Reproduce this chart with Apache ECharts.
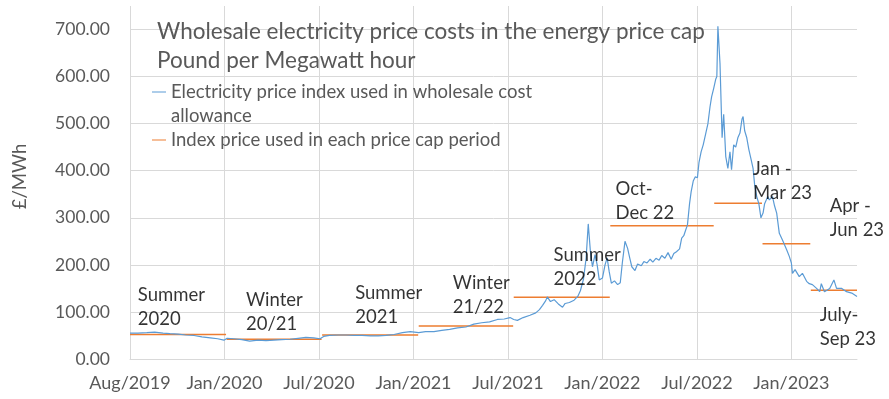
<!DOCTYPE html>
<html>
<head>
<meta charset="utf-8">
<script src="https://cdn.jsdelivr.net/npm/echarts@6/dist/echarts.min.js"></script>
<style>
  html, body { margin: 0; padding: 0; background: #ffffff; }
  #chart { width: 889px; height: 399px; }
</style>
</head>
<body>
<div id="chart"></div>
<script>
const dates = [
  '2019-08-01','2019-08-16','2019-09-02','2019-09-17','2019-10-03','2019-10-16','2019-11-01','2019-11-15',
  '2019-12-01','2019-12-16','2020-01-01','2020-01-15','2020-01-27','2020-02-02','2020-02-15','2020-03-01',
  '2020-03-16','2020-04-01','2020-04-16','2020-05-01','2020-05-16','2020-06-01','2020-06-16','2020-07-01',
  '2020-07-16','2020-07-28','2020-08-04','2020-08-15','2020-09-01','2020-09-16','2020-10-01','2020-10-16',
  '2020-11-01','2020-11-16','2020-12-01','2020-12-16','2021-01-01','2021-01-16','2021-02-01','2021-02-14',
  '2021-03-02','2021-03-17','2021-04-01','2021-04-16','2021-05-02','2021-05-17','2021-06-01','2021-06-16',
  '2021-07-01','2021-07-14','2021-07-25','2021-08-01','2021-08-08','2021-08-19','2021-09-01','2021-09-12',
  '2021-09-19','2021-09-25','2021-10-01','2021-10-04','2021-10-10','2021-10-17','2021-10-25','2021-11-02',
  '2021-11-07','2021-11-15','2021-11-24','2021-12-01','2021-12-06','2021-12-12','2021-12-17','2021-12-21',
  '2021-12-25','2021-12-29','2022-01-03','2022-01-07','2022-01-11','2022-01-17','2022-01-22','2022-01-26',
  '2022-01-30','2022-02-03','2022-02-09','2022-02-15','2022-02-20','2022-02-24','2022-03-01','2022-03-03',
  '2022-03-06','2022-03-10','2022-03-14','2022-03-20','2022-03-25','2022-04-01','2022-04-06','2022-04-12',
  '2022-04-18','2022-04-23','2022-04-29','2022-05-05','2022-05-10','2022-05-16','2022-05-22','2022-05-28',
  '2022-06-02','2022-06-07','2022-06-13','2022-06-17','2022-06-21','2022-06-24','2022-06-28','2022-07-02',
  '2022-07-05','2022-07-09','2022-07-13','2022-07-17','2022-07-20','2022-07-24','2022-07-28','2022-08-02',
  '2022-08-06','2022-08-10','2022-08-13','2022-08-17','2022-08-21','2022-08-23','2022-08-25','2022-08-29',
  '2022-09-02','2022-09-05','2022-09-09','2022-09-13','2022-09-17','2022-09-20','2022-09-24','2022-09-28',
  '2022-10-02','2022-10-06','2022-10-10','2022-10-12','2022-10-15','2022-10-19','2022-10-23','2022-10-27',
  '2022-10-31','2022-11-03','2022-11-07','2022-11-11','2022-11-15','2022-11-19','2022-11-22','2022-11-28',
  '2022-12-01','2022-12-07','2022-12-11','2022-12-15','2022-12-20','2022-12-26','2023-01-03','2023-01-08',
  '2023-01-12','2023-01-14','2023-01-19','2023-01-27','2023-02-02','2023-02-10','2023-02-15','2023-02-21',
  '2023-03-01','2023-03-07','2023-03-10','2023-03-16','2023-03-26','2023-04-03','2023-04-08','2023-04-18',
  '2023-04-27','2023-05-07','2023-05-17'
];
const prices = [
  55, 55, 56, 57, 55, 54, 53, 51,
  50, 47, 45, 43, 40, 44, 43, 41,
  38, 40, 39, 40, 41, 42, 44, 46,
  45, 43, 48, 50, 51, 51, 50, 50,
  49, 49, 50, 52, 56, 58, 56, 58,
  58, 61, 63, 66, 68, 74, 77, 79,
  84, 85, 88, 84, 82, 88, 93, 98,
  105, 114, 124, 132, 122, 126, 117, 110,
  118, 120, 125, 133, 145, 170, 215, 287,
  230, 196, 222, 200, 168, 172, 200, 215,
  185, 161, 166, 158, 162, 205, 250, 253,
  235, 215, 196, 188, 202, 198, 207, 204,
  212, 206, 214, 210, 220, 214, 226, 212,
  224, 228, 234, 257, 262, 272, 285, 330,
  355, 378, 387, 385, 418, 440, 455, 480,
  500, 536, 557, 575, 595, 600, 707, 628,
  470, 520, 430, 405, 440, 402, 455, 450,
  470, 480, 510, 515, 485, 470, 445, 425,
  405, 370, 345, 330, 300, 310, 330, 345,
  338, 345, 325, 310, 267, 253, 232, 218,
  204, 182, 190, 175, 182, 165, 160, 158,
  150, 143, 160, 143, 150, 168, 150, 150,
  143, 140, 133
];

// price cap observation periods and the index price used for each
const capStart = ['2019-08-01','2020-02-01','2020-08-01','2021-02-01','2021-08-01','2022-02-01','2022-08-18','2022-11-18','2023-02-18'];
const capEnd   = ['2020-01-31','2020-07-31','2021-01-31','2021-07-31','2022-01-31','2022-08-17','2022-11-17','2023-02-17','2023-05-17'];
const capValues = [52, 42, 51, 70, 131, 283, 331, 245, 146];
const capNames = ['Summer\n2020','Winter\n20/21','Summer\n2021','Winter\n21/22','Summer\n2022','Oct-\nDec 22','Jan -\nMar 23','Apr -\nJun 23','July-\nSep 23'];

const xTickLabels = ['Aug/2019','Jan/2020','Jul/2020','Jan/2021','Jul/2021','Jan/2022','Jul/2022','Jan/2023'];

const DAY = 86400000;
const origin = Date.UTC(2019, 7, 1);
function dayOf(s) {
  const p = s.split('-');
  return Math.round((Date.UTC(+p[0], +p[1] - 1, +p[2]) - origin) / DAY);
}

const indexName = 'Electricity price index used in wholesale cost\nallowance';
const capName = 'Index price used in each price cap period';

let capData = [];
capStart.forEach(function (s, i) {
  capData.push([dayOf(s), capValues[i]]);
  capData.push([dayOf(capEnd[i]), capValues[i]]);
  capData.push([dayOf(capEnd[i]), null]);
});

// where the period labels sit (date, value at the top-left of the text)
const notePlaces = [
  ['2019-08-16', 162], ['2020-03-09', 151], ['2020-10-03', 166], ['2021-04-07', 187], ['2021-10-16', 247],
  ['2022-02-11', 387], ['2022-10-31', 429], ['2023-03-26', 351], ['2023-03-07', 119]
];
let noteData = notePlaces.map(function (p, i) {
  return {value: [dayOf(p[0]), p[1]], name: capNames[i]};
});

const font = 'Lato';
const grey = '#595959';
const gridColor = '#d9d9d9';

let chart = echarts.init(document.getElementById('chart'));
let option = {
  animation: false,
  title: {
    text: 'Wholesale electricity price costs in the energy price cap\nPound per Megawatt hour',
    left: 157,
    top: 17,
    padding: 0,
    textStyle: {fontFamily: font, fontSize: 22.5, fontWeight: 'normal', color: grey, lineHeight: 29}
  },
  legend: {
    data: [
      {name: indexName, icon: 'rect'},
      {name: capName, icon: 'rect'}
    ],
    // the wrapped entry gets an empty first line so its first text line sits on the icon
    formatter: function (name) { return name === indexName ? '\n' + name : name; },
    orient: 'vertical',
    left: 152,
    top: 56,
    padding: 0,
    itemGap: 0,
    itemWidth: 14,
    itemHeight: 1,
    textStyle: {fontFamily: font, fontSize: 18.5, color: grey, lineHeight: 24}
  },
  grid: {left: 130, right: 32, top: 6, bottom: 40, outerBoundsMode: 'none'},
  xAxis: {
    type: 'value',
    min: 0,
    max: dayOf('2023-05-17'),
    interval: 180,
    axisLine: {lineStyle: {color: gridColor}},
    axisTick: {show: false},
    axisLabel: {
      fontFamily: font, fontSize: 18, color: grey, margin: 15, showMaxLabel: false,
      formatter: function (v) { return xTickLabels[Math.round(v / 180)] || ''; }
    },
    splitLine: {show: true, showMaxLine: false, lineStyle: {color: gridColor}}
  },
  yAxis: {
    type: 'value',
    min: 0,
    max: 750,
    interval: 100,
    name: '£/MWh',
    nameLocation: 'middle',
    nameRotate: 90,
    nameGap: 100,
    nameTextStyle: {fontFamily: font, fontSize: 18.5, color: grey, padding: [0, 0, 0, 12]},
    axisLine: {show: false},
    axisTick: {show: false},
    axisLabel: {
      fontFamily: font, fontSize: 17.5, color: grey, margin: 20, showMaxLabel: false,
      formatter: function (v) { return v.toFixed(2); }
    },
    splitLine: {show: true, showMaxLine: false, lineStyle: {color: gridColor}}
  },
  series: [
    {
      name: indexName,
      type: 'line',
      data: dates.map(function (d, i) { return [dayOf(d), prices[i]]; }),
      symbol: 'none',
      lineStyle: {color: '#5B9BD5', width: 1.2},
      itemStyle: {color: '#5B9BD5'},
      z: 3
    },
    {
      name: capName,
      type: 'line',
      data: capData,
      connectNulls: false,
      symbol: 'none',
      lineStyle: {color: '#ED7D31', width: 1.5},
      itemStyle: {color: '#ED7D31'},
      z: 2
    },
    {
      name: 'notes',
      type: 'scatter',
      data: noteData,
      symbolSize: 0,
      silent: true,
      z: 5,
      label: {
        show: true,
        position: [0, 0],
        align: 'left',
        verticalAlign: 'top',
        fontFamily: font,
        fontSize: 18.5,
        lineHeight: 24,
        color: '#000000',
        formatter: function (p) { return p.name; }
      }
    }
  ]
};
chart.setOption(option);
</script>
</body>
</html>
